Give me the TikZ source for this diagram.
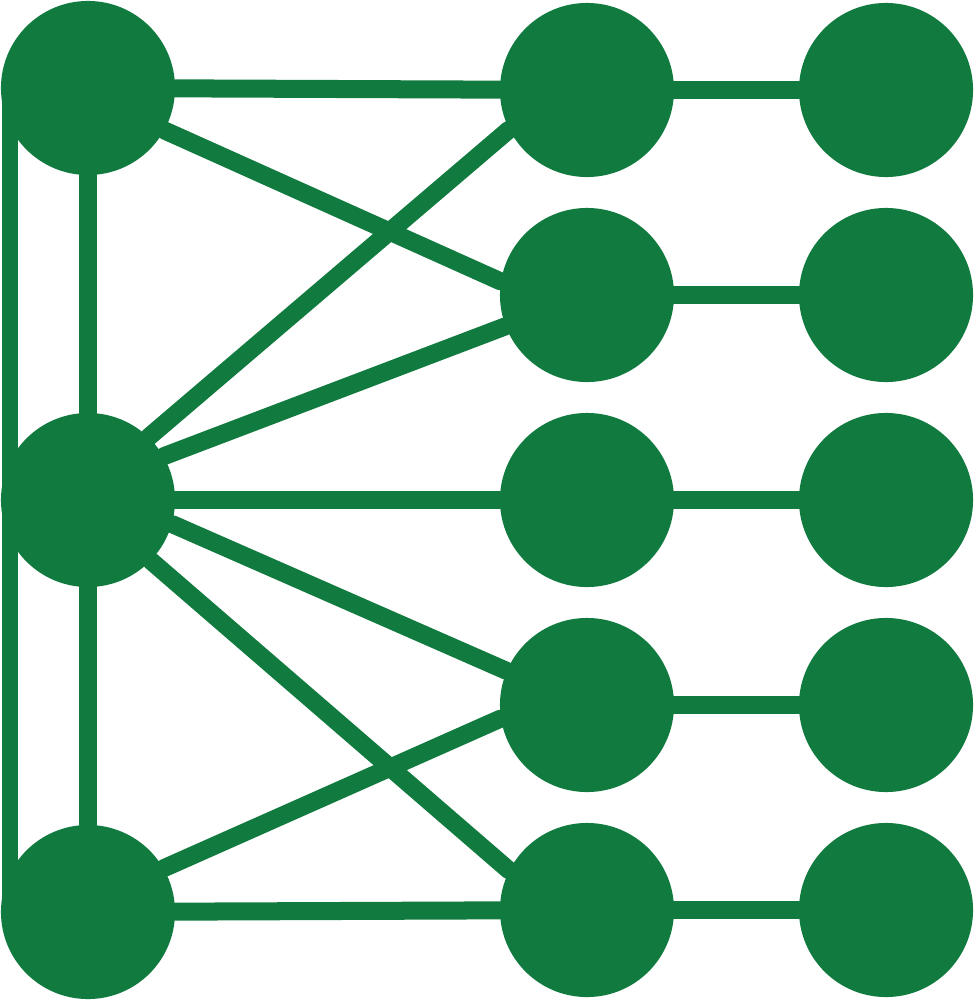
\documentclass[tikz,border=0pt]{standalone}
\definecolor{netgreen}{RGB}{17,123,63}
\begin{document}
\begin{tikzpicture}
  [x=0.01cm,y=-0.01cm,every node/.style={circle,fill=netgreen,inner sep=0pt,minimum size=1.74cm}]
  \useasboundingbox (0,0) rectangle (975,1000);
  \node (l1) at (88,88) {};
  \node (l2) at (88,500) {};
  \node (l3) at (88,912) {};
  \node (m1) at (587,90) {};
  \node (m2) at (587,295) {};
  \node (m3) at (587,500) {};
  \node (m4) at (587,705) {};
  \node (m5) at (587,910) {};
  \node (r1) at (886,90) {};
  \node (r2) at (886,295) {};
  \node (r3) at (886,500) {};
  \node (r4) at (886,705) {};
  \node (r5) at (886,910) {};
 \path[draw=netgreen,line width=0.18cm,line cap=round]
        (l1) edge (m1)
        (l1.-29) edge (m2.171)
        (l2.46) edge (m1.207)
        (l2.30) edge (m2.201)
        (l2) edge (m3)
        (l2.-16) edge (m4.157)
        (l2.-44) edge (m5.153)
        (l3.30) edge (m4.189)
        (l3) edge (m5)
        (l1) edge (l2)
        (l2) edge (l3)
        (m1) edge (r1)
        (m2) edge (r2)
        (m3) edge (r3)
        (m4) edge (r4)
        (m5) edge (r5);
 \draw[netgreen,line width=0.16cm] ([xshift=0.1cm]l1.west) -- ([xshift=0.1cm]l3.west);

\end{tikzpicture}
\end{document}
